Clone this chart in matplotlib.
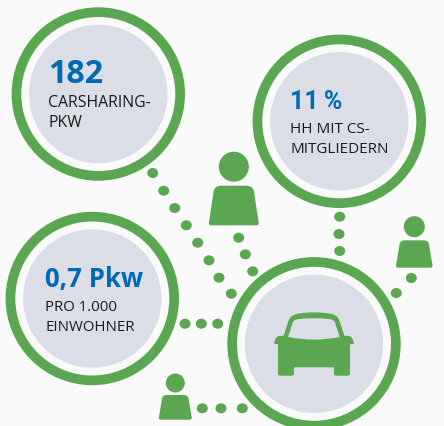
import matplotlib

matplotlib.use("Agg")
import matplotlib.pyplot as plt
from matplotlib.patches import Circle, Ellipse, PathPatch
from matplotlib.path import Path

GREEN = "#5aa651"
GREY = "#dbdee6"
BLUE = "#0069b4"
BG = "#fafafa"
FONT = "Open Sans"

# rings, in image pixels: x, y
ring_x = [98.3, 339.3, 92.3, 314.0]
ring_y = [95.0, 122.3, 299.5, 344.8]

# headline and two text lines per ring
headlines = ["182", "11\u2009%", "0,7 Pkw"]
head_font = ["Open Sans", "Roboto", "Open Sans"]
lines_top = ["CARSHARING-", "HH MIT CS-", "PRO 1.000"]
lines_bottom = ["PKW", "MITGLIEDERN", "EINWOHNER"]
text_x = [48.0, 290.0, 45.0]
head_base = [82.7, 109.0, 287.0]
top_base = [107.0, 133.3, 310.7]
bottom_base = [127.0, 152.7, 330.7]
head_size = [23.2, 18.0, 18.5]
line_size = [11.4, 11.0, 10.8]

dots_x = [152.7, 163.7, 174.7, 186.3, 197.7, 209.0, 219.0, 231.3,
          238.7, 245.3, 252.7,
          339.7, 339.0, 339.7,
          411.3, 396.3,
          185.0, 201.3, 217.7,
          202.3, 221.0, 242.3]
dots_y = [174.0, 191.7, 209.0, 226.3, 243.7, 261.3, 278.7, 294.7,
          238.7, 255.3, 272.3,
          217.7, 235.0, 252.0,
          279.0, 294.0,
          324.7, 324.7, 324.7,
          409.3, 409.3, 409.3]

# person icons: centre x, head y, head radius, body top, body bottom, half width
person_x = [233.8, 414.3, 175.3]
person_head = [167.7, 227.7, 384.0]
person_r = [15.0, 10.5, 9.5]
person_top = [186.7, 241.3, 396.0]
person_bottom = [226.3, 268.7, 420.7]
person_half = [25.0, 18.3, 16.5]

fig = plt.figure(figsize=(4.44, 4.27), dpi=100, facecolor=BG)
ax = fig.add_axes([0, 0, 1, 1])
ax.set_xlim(0, 444)
ax.set_ylim(427, 0)
ax.axis("off")

for x, y in zip(dots_x, dots_y):
    ax.add_patch(Ellipse((x, y), 11.0, 10.0, color=GREEN, lw=0))

for x, y in zip(ring_x, ring_y):
    ax.add_patch(Circle((x, y), 86.7, color=GREEN, lw=0))
    ax.add_patch(Circle((x, y), 77.0, color=BG, lw=0))
    ax.add_patch(Circle((x, y), 69.2, color=GREY, lw=0))

for i in range(3):
    ax.text(text_x[i], head_base[i], headlines[i], color=BLUE, fontsize=head_size[i],
            fontweight="bold", family=head_font[i], va="baseline", ha="left")
    ax.text(text_x[i], top_base[i], lines_top[i], color="#1a1a1a", fontsize=line_size[i],
            family=FONT, va="baseline", ha="left")
    ax.text(text_x[i], bottom_base[i], lines_bottom[i], color="#1a1a1a", fontsize=line_size[i],
            family=FONT, va="baseline", ha="left")


def person_path(cx, top, bottom, half):
    # body with large rounded shoulders, sides widen slightly to the bottom
    t = half * 0.82
    r = half * 0.32
    verts = [
        (cx - half, bottom - 2), (cx - t, top + r),
        (cx - t, top), (cx - t + r, top),
        (cx + t - r, top),
        (cx + t, top), (cx + t, top + r),
        (cx + half, bottom - 2),
        (cx + half, bottom), (cx + half - 2, bottom),
        (cx - half + 2, bottom),
        (cx - half, bottom), (cx - half, bottom - 2),
    ]
    codes = [Path.MOVETO, Path.LINETO, Path.CURVE3, Path.CURVE3, Path.LINETO,
             Path.CURVE3, Path.CURVE3, Path.LINETO, Path.CURVE3, Path.CURVE3,
             Path.LINETO, Path.CURVE3, Path.CURVE3]
    return Path(verts, codes)


for i in range(3):
    ax.add_patch(Circle((person_x[i], person_head[i]), person_r[i], color=GREEN, lw=0))
    ax.add_patch(PathPatch(person_path(person_x[i], person_top[i], person_bottom[i],
                                       person_half[i]), color=GREEN, lw=0))


def car(x, y):
    # car outline is measured on a 3x crop that starts at (222, 213)
    return 222 + x / 3, 213 + y / 3


car_body = [
    (Path.MOVETO, (185, 371)),
    (Path.LINETO, (200, 325)),
    (Path.CURVE3, (207, 308)), (Path.CURVE3, (228, 305)),
    (Path.CURVE3, (275, 297)), (Path.CURVE3, (325, 305)),
    (Path.CURVE3, (345, 308)), (Path.CURVE3, (352, 325)),
    (Path.LINETO, (367, 371)),
    (Path.LINETO, (382, 372)),
    (Path.CURVE3, (393, 376)), (Path.CURVE3, (396, 395)),
    (Path.LINETO, (384, 397)),
    (Path.LINETO, (384, 484)),
    (Path.CURVE3, (384, 491)), (Path.CURVE3, (377, 491)),
    (Path.LINETO, (343, 491)),
    (Path.CURVE3, (336, 491)), (Path.CURVE3, (336, 484)),
    (Path.LINETO, (336, 466)),
    (Path.LINETO, (216, 466)),
    (Path.LINETO, (216, 484)),
    (Path.CURVE3, (216, 491)), (Path.CURVE3, (209, 491)),
    (Path.LINETO, (175, 491)),
    (Path.CURVE3, (168, 491)), (Path.CURVE3, (168, 484)),
    (Path.LINETO, (168, 397)),
    (Path.LINETO, (156, 395)),
    (Path.CURVE3, (159, 376)), (Path.CURVE3, (170, 372)),
    (Path.CLOSEPOLY, (185, 371)),
]
windshield = [
    (Path.MOVETO, (198, 375)),
    (Path.LINETO, (212, 332)),
    (Path.CURVE3, (215, 322)), (Path.CURVE3, (232, 321)),
    (Path.CURVE3, (275, 316)), (Path.CURVE3, (320, 321)),
    (Path.CURVE3, (336, 322)), (Path.CURVE3, (339, 332)),
    (Path.LINETO, (353, 375)),
    (Path.CURVE3, (275, 391)), (Path.CURVE3, (198, 375)),
    (Path.CLOSEPOLY, (198, 375)),
]
for part, col in [(car_body, GREEN), (windshield, GREY)]:
    codes = [c for c, _ in part]
    verts = [car(*p) for _, p in part]
    ax.add_patch(PathPatch(Path(verts, codes), color=col, lw=0))

fig.savefig("out.png", dpi=100, facecolor=BG)
